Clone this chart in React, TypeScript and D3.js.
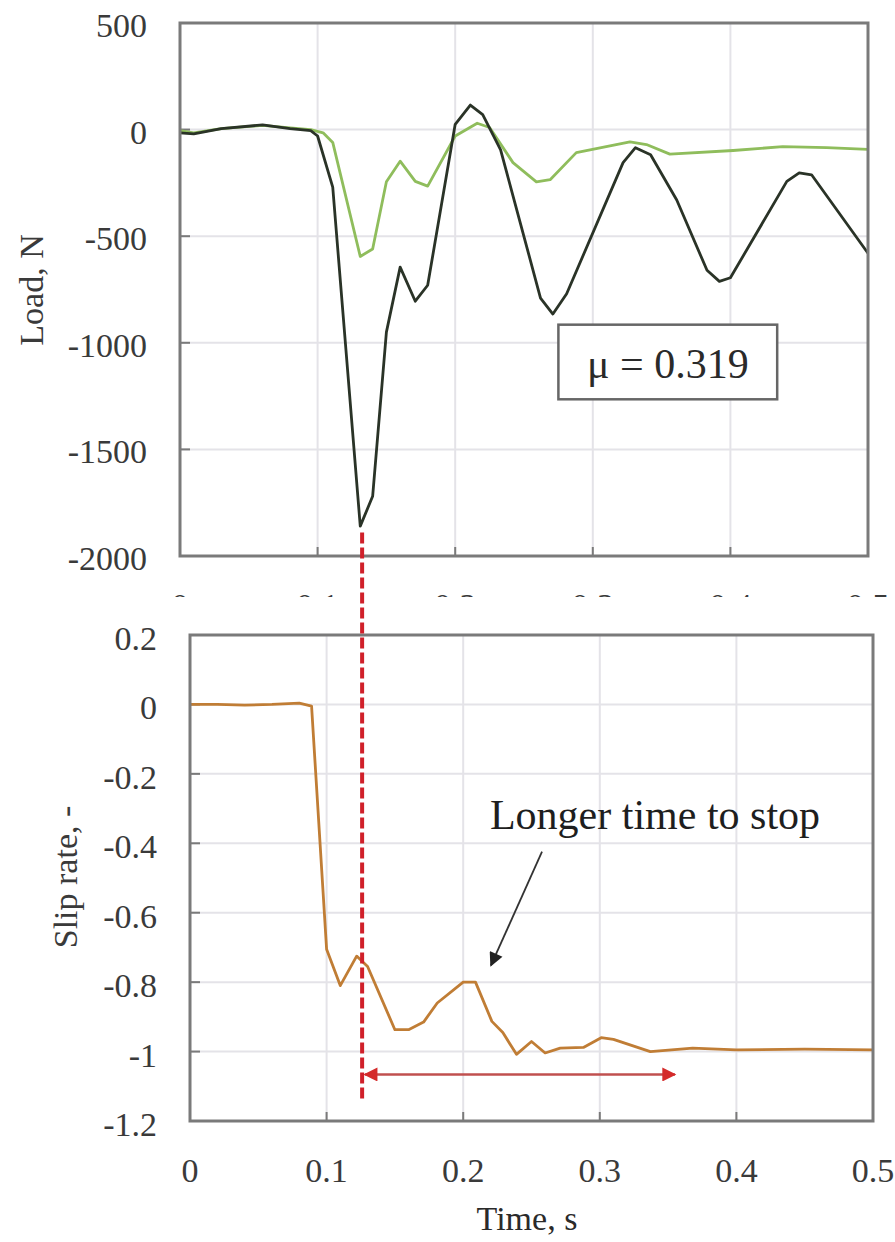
import React from 'react'
import * as d3 from 'd3'

// shared time axis
const timeTicks = [0, 0.1, 0.2, 0.3, 0.4, 0.5]
const timeTickLabels = ['0', '0.1', '0.2', '0.3', '0.4', '0.5']

// panel y ticks
const loadTicks = [500, 0, -500, -1000, -1500, -2000]
const loadTickLabels = ['500', '0', '-500', '-1000', '-1500', '-2000']
const slipTicks = [0.2, 0, -0.2, -0.4, -0.6, -0.8, -1, -1.2]
const slipTickLabels = ['0.2', '0', '-0.2', '-0.4', '-0.6', '-0.8', '-1', '-1.2']

// load, N (dark trace): [time s, load]
const loadDark: [number, number][] = [
  [0, -15], [0.01, -20], [0.03, 5], [0.06, 22], [0.08, 5], [0.095, -5],
  [0.1, -30], [0.111, -270], [0.131, -1860], [0.14, -1720], [0.15, -950],
  [0.16, -645], [0.171, -805], [0.18, -730], [0.2, 25], [0.211, 115],
  [0.22, 70], [0.233, -95], [0.262, -790], [0.271, -865], [0.281, -770],
  [0.322, -155], [0.331, -85], [0.342, -118], [0.361, -330], [0.383, -660],
  [0.392, -712], [0.4, -695], [0.441, -243], [0.45, -203], [0.459, -212],
  [0.5, -580],
]

// load, N (light trace)
const loadLight: [number, number][] = [
  [0, -5], [0.01, -15], [0.03, 5], [0.06, 20], [0.08, 8], [0.095, 0],
  [0.104, -15], [0.111, -60], [0.131, -595], [0.14, -560], [0.15, -245],
  [0.16, -148], [0.171, -243], [0.18, -265], [0.2, -30], [0.216, 30],
  [0.225, 10], [0.242, -155], [0.259, -245], [0.269, -235], [0.288, -108],
  [0.327, -58], [0.339, -70], [0.356, -115], [0.402, -98], [0.438, -80],
  [0.47, -85], [0.5, -93],
]

// slip rate, -
const slipRate: [number, number][] = [
  [0, 0], [0.02, 0], [0.04, -0.002], [0.06, 0], [0.08, 0.004], [0.089, -0.005],
  [0.1, -0.705], [0.11, -0.81], [0.122, -0.725], [0.13, -0.755], [0.15, -0.937],
  [0.16, -0.937], [0.171, -0.915], [0.181, -0.86], [0.2, -0.8], [0.209, -0.8],
  [0.221, -0.913], [0.229, -0.945], [0.239, -1.008], [0.25, -0.971],
  [0.26, -1.004], [0.271, -0.99], [0.288, -0.988], [0.301, -0.96],
  [0.31, -0.965], [0.337, -1.0], [0.368, -0.99], [0.4, -0.995], [0.45, -0.993],
  [0.5, -0.995],
]

const muLabel = 'μ = 0.319'
const stopLabel = 'Longer time to stop'

const font = "'Liberation Serif', 'Times New Roman', serif"
const frameColor = '#7a7a7a'
const gridColor = '#e4e3e8'
const labelColor = '#3a3a3a'

export default function App() {
  const width = 895,
    height = 1242

  // top panel scales
  const xTop = d3.scaleLinear().domain([0, 0.5]).range([180, 868])
  const yTop = d3.scaleLinear().domain([-2000, 500]).range([556, 23])

  // bottom panel scales
  const xBot = d3.scaleLinear().domain([0, 0.5]).range([190, 873])
  const yBot = d3.scaleLinear().domain([-1.2, 0.2]).range([1121, 635])

  const lineTop = d3
    .line<[number, number]>()
    .x(d => xTop(d[0]))
    .y(d => yTop(d[1]))
  const lineBot = d3
    .line<[number, number]>()
    .x(d => xBot(d[0]))
    .y(d => yBot(d[1]))

  // grid lines (interior only)
  const gridX = (x: d3.ScaleLinear<number, number>, y: d3.ScaleLinear<number, number>) =>
    timeTicks.slice(1, -1).map((t, i) => (
      <line key={'gx' + i} x1={x(t)} x2={x(t)} y1={y.range()[0]} y2={y.range()[1]} stroke={gridColor} strokeWidth={2} />
    ))
  const gridY = (ticks: number[], x: d3.ScaleLinear<number, number>, y: d3.ScaleLinear<number, number>) =>
    ticks.slice(1, -1).map((v, i) => (
      <line key={'gy' + i} x1={x.range()[0]} x2={x.range()[1]} y1={y(v)} y2={y(v)} stroke={gridColor} strokeWidth={2} />
    ))

  // inward tick marks
  const tickMarks = (ticks: number[], x: d3.ScaleLinear<number, number>, y: d3.ScaleLinear<number, number>) => (
    <g stroke={frameColor} strokeWidth={2}>
      {timeTicks.map((t, i) => (
        <line key={'tx' + i} x1={x(t)} x2={x(t)} y1={y.range()[0]} y2={y.range()[0] - 9} />
      ))}
      {ticks.map((v, i) => (
        <line key={'ty' + i} x1={x.range()[0]} x2={x.range()[0] + 10} y1={y(v)} y2={y(v)} />
      ))}
    </g>
  )

  const frame = (x: d3.ScaleLinear<number, number>, y: d3.ScaleLinear<number, number>) => (
    <rect
      x={x.range()[0]}
      y={y.range()[1]}
      width={x.range()[1] - x.range()[0]}
      height={y.range()[0] - y.range()[1]}
      fill="none"
      stroke={frameColor}
      strokeWidth={3}
    />
  )

  // annotation anchors
  const peakT = 0.126
  const dashX = xBot(peakT)
  const arrowY = yBot(-1.066)
  const muBox = { x0: xTop(0.275), x1: xTop(0.434), y0: yTop(-915), y1: yTop(-1265) }

  return (
    <svg width={width} height={height} style={{ position: 'absolute', left: 0, top: 0, background: '#fff' }} fontFamily={font}>
      <defs>
        <clipPath id="topLabelClip">
          <rect x={0} y={0} width={width} height={597} />
        </clipPath>
        <marker id="redHead" viewBox="0 0 10 10" refX={9} refY={5} markerWidth={16} markerHeight={14} markerUnits="userSpaceOnUse" orient="auto-start-reverse">
          <path d="M0,0 L10,5 L0,10 z" fill="#d42a2a" />
        </marker>
        <marker id="blackHead" viewBox="0 0 10 10" refX={9} refY={5} markerWidth={17} markerHeight={14} markerUnits="userSpaceOnUse" orient="auto">
          <path d="M0,0 L10,5 L0,10 z" fill="#222" />
        </marker>
      </defs>

      {/* ---------- top panel: load ---------- */}
      <g>
        {gridX(xTop, yTop)}
        {gridY(loadTicks, xTop, yTop)}
        {tickMarks(loadTicks, xTop, yTop)}
        <path d={lineTop(loadLight) || ''} fill="none" stroke="#8fbd5c" strokeWidth={2.8} strokeLinejoin="round" />
        <path d={lineTop(loadDark) || ''} fill="none" stroke="#2a3327" strokeWidth={2.8} strokeLinejoin="round" />
        {frame(xTop, yTop)}
        <g fontSize={34} fill={labelColor} textAnchor="end">
          {loadTicks.map((v, i) => (
            <text key={i} x={147} y={yTop(v) + 14}>
              {loadTickLabels[i]}
            </text>
          ))}
        </g>
        <g fontSize={34} fill={labelColor} textAnchor="middle" clipPath="url(#topLabelClip)">
          {timeTicks.map((t, i) => (
            <text key={i} x={xTop(t)} y={617}>
              {timeTickLabels[i]}
            </text>
          ))}
        </g>
        <text transform="translate(43, 290) rotate(-90)" textAnchor="middle" fontSize={34} fill={labelColor}>
          Load, N
        </text>
        <rect x={muBox.x0} y={muBox.y0} width={muBox.x1 - muBox.x0} height={muBox.y1 - muBox.y0} fill="#fff" stroke="#666" strokeWidth={2.5} />
        <text x={(muBox.x0 + muBox.x1) / 2} y={muBox.y1 - 21} textAnchor="middle" fontSize={42} fill="#2a2a2a">
          {muLabel}
        </text>
      </g>

      {/* ---------- bottom panel: slip rate ---------- */}
      <g>
        {gridX(xBot, yBot)}
        {gridY(slipTicks, xBot, yBot)}
        {tickMarks(slipTicks, xBot, yBot)}
        <path d={lineBot(slipRate) || ''} fill="none" stroke="#c07d35" strokeWidth={2.8} strokeLinejoin="round" />
        {frame(xBot, yBot)}
        <g fontSize={34} fill={labelColor} textAnchor="end">
          {slipTicks.map((v, i) => (
            <text key={i} x={157} y={yBot(v) + 15}>
              {slipTickLabels[i]}
            </text>
          ))}
        </g>
        <g fontSize={34} fill={labelColor} textAnchor="middle">
          {timeTicks.map((t, i) => (
            <text key={i} x={xBot(t)} y={1182}>
              {timeTickLabels[i]}
            </text>
          ))}
        </g>
        <text transform="translate(77, 877) rotate(-90)" textAnchor="middle" fontSize={34} fill={labelColor}>
          Slip rate, -
        </text>
        <text x={527} y={1230} textAnchor="middle" fontSize={34} fill="#2a2a2a">
          Time, s
        </text>

        {/* annotation */}
        <text x={xBot(0.2196)} y={yBot(-0.36)} fontSize={42} fill="#1e1e1e">
          {stopLabel}
        </text>
        <line
          x1={xBot(0.2577)}
          y1={yBot(-0.424)}
          x2={xBot(0.2203)}
          y2={yBot(-0.752)}
          stroke="#333"
          strokeWidth={1.8}
          markerEnd="url(#blackHead)"
        />
        <line
          x1={xBot(0.128)}
          x2={xBot(0.355)}
          y1={arrowY}
          y2={arrowY}
          stroke="#c0504f"
          strokeWidth={2.5}
          markerStart="url(#redHead)"
          markerEnd="url(#redHead)"
        />
      </g>

      {/* red dashed marker linking both panels */}
      <line
        x1={dashX}
        x2={dashX}
        y1={yTop(-1890)}
        y2={yBot(-1.138)}
        stroke="#d0202a"
        strokeWidth={4}
        strokeDasharray="11 4"
      />
    </svg>
  )
}
